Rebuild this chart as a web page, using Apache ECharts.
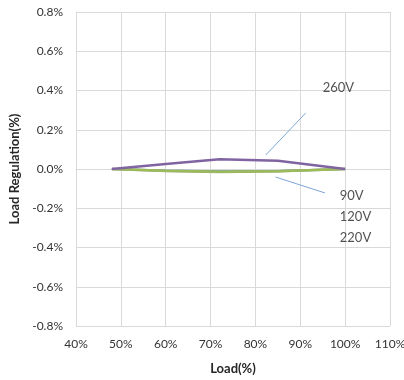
<!DOCTYPE html>
<html><head><meta charset="utf-8">
<script src="https://cdn.jsdelivr.net/npm/echarts@6/dist/echarts.min.js"></script>
<style>html,body{margin:0;padding:0;background:#fff}#c{width:404px;height:380px}</style>
</head><body><div id="c"></div>
<script>
const loads = [48, 60, 72, 85, 100];
const v90 = [0, -0.008, -0.012, -0.010, 0];
const v120 = [0, -0.010, -0.015, -0.012, 0];
const v220 = [0, -0.009, -0.014, -0.012, 0];
const v260 = [0, 0.025, 0.05, 0.042, 0];
const xTicks = [40, 50, 60, 70, 80, 90, 100, 110];
const yTicks = [-0.8, -0.6, -0.4, -0.2, 0, 0.2, 0.4, 0.6, 0.8];
const labels = [
  {name: '260V', x: 95.0, y: 0.413},
  {name: '90V', x: 98.8, y: -0.138},
  {name: '120V', x: 98.8, y: -0.245},
  {name: '220V', x: 98.8, y: -0.352}
];
const leaders = [
  [[82.3, 0.071], [91.2, 0.285]],
  [[84.5, -0.041], [95.5, -0.122]]
];
const font = 'Lato, "Noto Sans", sans-serif';
function pts(vals){ return loads.map((x,i)=>[x, vals[i]]); }
function line(name, vals, color, w){
  return {name, type:'line', data: pts(vals), symbol:'none', smooth:false,
    lineStyle:{color, width:w}, itemStyle:{color}, z: 3};
}
const chart = echarts.init(document.getElementById('c'));
chart.setOption({
  animation:false,
  backgroundColor:'#fff',
  grid:{left:76, right:14, top:12, bottom:54, containLabel:false, outerBoundsMode:'none'},
  xAxis:{type:'value', min:40, max:110, interval:10,
    name:'Load(%)', nameLocation:'middle', nameGap:36,
    nameTextStyle:{fontFamily:font, fontWeight:'bold', fontSize:13, color:'#262626'},
    axisLine:{show:true, lineStyle:{color:'#d9d9d9'}}, axisTick:{show:false},
    axisLabel:{fontFamily:font, fontSize:12, color:'#333', margin:12, formatter: v=>v+'%'},
    splitLine:{show:true, lineStyle:{color:'#d9d9d9'}}},
  yAxis:{type:'value', min:-0.8, max:0.8, interval:0.2,
    name:'Load Regulation(%)', nameLocation:'middle', nameGap:55,
    nameTextStyle:{fontFamily:font, fontWeight:'bold', fontSize:13, color:'#262626'},
    axisLine:{show:true, lineStyle:{color:'#d9d9d9'}}, axisTick:{show:false},
    axisLabel:{fontFamily:font, fontSize:12, color:'#333', margin:13, formatter: v=>v.toFixed(1)+'%'},
    splitLine:{show:true, lineStyle:{color:'#d9d9d9'}}},
  series:[
    line('90V', v90, '#4f81bd', 2),
    line('120V', v120, '#a5a58a', 2.5),
    line('220V', v220, '#9bbb59', 2.5),
    line('260V', v260, '#8064a2', 2.5),
    {type:'scatter', symbolSize:0, silent:true,
      data: labels.map(l=>({value:[l.x,l.y], name:l.name})),
      label:{show:true, position:'right', distance:0, formatter:p=>p.name,
        fontFamily:font, fontSize:13, color:'#262626'},
      markLine:{silent:true, symbol:'none', animation:false,
        lineStyle:{color:'#7ea6d8', width:1, type:'solid'}, label:{show:false},
        data: leaders.map(l=>[{coord:l[0]},{coord:l[1]}])}
    }
  ]
});
</script></body></html>
